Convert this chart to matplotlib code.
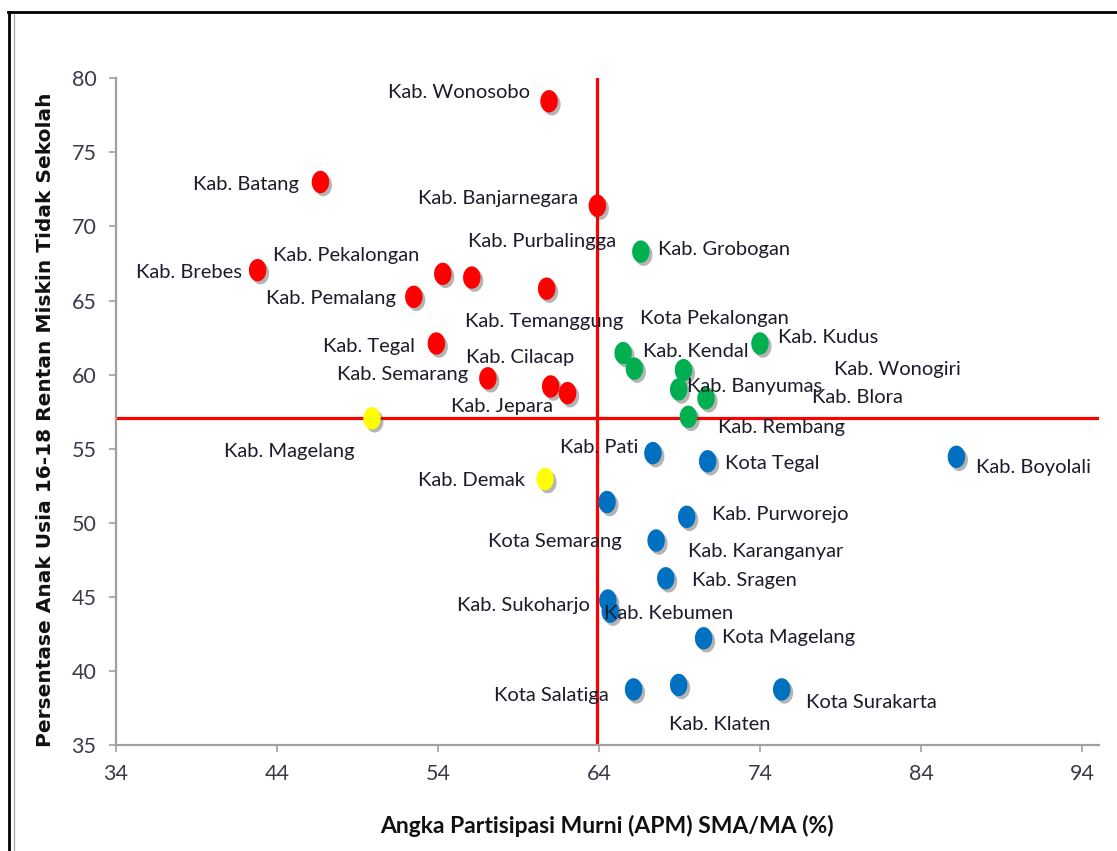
import matplotlib
matplotlib.use("Agg")
import matplotlib.pyplot as plt
import matplotlib.patheffects as pe
from matplotlib.lines import Line2D
from matplotlib.path import Path
import numpy as np

# APM SMA/MA (%) vs persentase anak 16-18 rentan miskin tidak sekolah, per kab/kota
red_names = ["Kab. Wonosobo", "Kab. Batang", "Kab. Banjarnegara", "Kab. Brebes",
             "Kab. Pekalongan", "Kab. Purbalingga", "Kab. Pemalang", "Kab. Temanggung",
             "Kab. Tegal", "Kab. Semarang", "Kab. Cilacap", "Kab. Jepara"]
red_apm = [60.9, 46.7, 63.9, 42.8, 54.3, 56.1, 52.5, 60.75, 53.9, 57.1, 61.0, 62.05]
red_pct = [78.45, 73.0, 71.4, 67.05, 66.8, 66.55, 65.25, 65.8, 62.1, 59.75, 59.2, 58.75]

yellow_names = ["Kab. Magelang", "Kab. Demak"]
yellow_apm = [49.9, 60.65]
yellow_pct = [57.05, 52.95]

green_names = ["Kab. Grobogan", "Kota Pekalongan", "Kab. Kendal", "Kab. Wonogiri",
               "Kab. Banyumas", "Kab. Blora", "Kab. Rembang", "Kab. Kudus"]
green_apm = [66.6, 65.5, 66.2, 69.25, 68.95, 70.65, 69.55, 74.0]
green_pct = [68.3, 61.45, 60.4, 60.3, 59.0, 58.4, 57.15, 62.1]

blue_names = ["Kab. Pati", "Kota Tegal", "Kab. Boyolali", "Kota Semarang", "Kab. Purworejo",
              "Kab. Karanganyar", "Kab. Sragen", "Kab. Sukoharjo", "Kab. Kebumen",
              "Kota Magelang", "Kota Salatiga", "Kab. Klaten", "Kota Surakarta"]
blue_apm = [67.35, 70.75, 86.2, 64.5, 69.45, 67.55, 68.15, 64.55, 64.7, 70.5, 66.15, 68.95, 75.35]
blue_pct = [54.7, 54.15, 54.45, 51.4, 50.4, 48.8, 46.25, 44.75, 44.0, 42.2, 38.75, 39.05, 38.75]

# garis rata-rata
apm_mean = 63.9
pct_mean = 57.1

# posisi label (offset pixel dari titik, alignment)
label_pos = {
    "Kab. Wonosobo": (-19, 9, "right"), "Kab. Batang": (-21, -3, "right"),
    "Kab. Banjarnegara": (-19, 7, "right"), "Kab. Brebes": (-16, -2, "right"),
    "Kab. Pekalongan": (-23, 18, "right"), "Kab. Purbalingga": (-4, 36, "left"),
    "Kab. Pemalang": (-18, -2, "right"), "Kab. Temanggung": (-82, -33, "left"),
    "Kab. Tegal": (-21, -3, "right"), "Kab. Semarang": (-20, 4, "right"),
    "Kab. Cilacap": (-85, 29, "left"), "Kab. Jepara": (-15, -13, "right"),
    "Kab. Magelang": (-17, -33, "right"), "Kab. Demak": (-20, -1, "right"),
    "Kab. Grobogan": (17, 2, "left"), "Kota Pekalongan": (17, 35, "left"),
    "Kab. Kendal": (9, 17, "left"), "Kab. Wonogiri": (150, 1, "left"),
    "Kab. Banyumas": (8, 3, "left"), "Kab. Blora": (106, 1, "left"),
    "Kab. Rembang": (30, -11, "left"), "Kab. Kudus": (18, 6, "left"),
    "Kab. Pati": (-15, 6, "right"), "Kota Tegal": (17, -2, "left"),
    "Kab. Boyolali": (20, -11, "left"), "Kota Semarang": (15, -40, "right"),
    "Kab. Purworejo": (25, 2, "left"), "Kab. Karanganyar": (32, -11, "left"),
    "Kab. Sragen": (26, -2, "left"), "Kab. Sukoharjo": (-18, -5, "right"),
    "Kab. Kebumen": (-6, -2, "left"), "Kota Magelang": (18, 1, "left"),
    "Kota Salatiga": (-25, -6, "right"), "Kab. Klaten": (-10, -40, "left"),
    "Kota Surakarta": (24, -13, "left"),
}

FONT = ["Lato", "DejaVu Sans"]

# marker elips (sedikit lebih tinggi daripada lebar)
t = np.linspace(0, 2 * np.pi, 64)
ellipse = Path(np.column_stack([0.78 * np.cos(t), np.sin(t)]), closed=True)
shadow = [pe.SimplePatchShadow(offset=(2, -2.2), shadow_rgbFace="#444444", alpha=0.4), pe.Normal()]

fig = plt.figure(figsize=(11.17, 8.51), dpi=100)
ax = fig.add_axes([0.1038, 0.1246, 0.88, 0.7834])

ax.axvline(apm_mean, color="#FF0000", lw=2.3, zorder=2)
ax.axhline(pct_mean, color="#FF0000", lw=2.3, zorder=2)

groups = [
    (red_names, red_apm, red_pct, "#FF0000"),
    (yellow_names, yellow_apm, yellow_pct, "#FFFF00"),
    (green_names, green_apm, green_pct, "#00B050"),
    (blue_names, blue_apm, blue_pct, "#0070C0"),
]
for names, xs, ys, col in groups:
    ax.scatter(xs, ys, s=260, marker=ellipse, color=col, linewidths=0,
               zorder=3, path_effects=shadow)
    for name, x, y in zip(names, xs, ys):
        dx, dy, ha = label_pos[name]
        ax.annotate(name, (x, y), xytext=(dx, dy), textcoords="offset pixels",
                    ha=ha, va="center", fontsize=14.5, family=FONT,
                    color="#1c1c2a", zorder=4)

ax.set_xlim(34, 95.05)
ax.set_ylim(35, 80)
ax.set_xticks(np.arange(34, 95, 10))
ax.set_yticks(np.arange(35, 81, 5))

for side in ["top", "right"]:
    ax.spines[side].set_visible(False)
for side in ["left", "bottom"]:
    ax.spines[side].set_color("#A0A0A0")
    ax.spines[side].set_linewidth(1.6)
ax.tick_params(direction="out", length=5, width=1.2, color="#A0A0A0",
               labelcolor="#3a3a4a", labelsize=15.5, pad=9)
for lbl in ax.get_xticklabels() + ax.get_yticklabels():
    lbl.set_family(FONT)

ax.set_xlabel("Angka Partisipasi Murni (APM) SMA/MA (%)", fontsize=16.5,
              fontweight="bold", family=FONT, color="#111111", labelpad=22)
fig.text(0.0405, 0.507, "Persentase Anak Usia 16-18 Rentan Miskin Tidak Sekolah",
         rotation=90, ha="center", va="center", fontsize=14.5, fontweight="bold",
         family="DejaVu Sans", color="#111111")

# bingkai luar
fig.add_artist(Line2D([8 / 1117, 1], [1 - 12 / 851, 1 - 12 / 851], color="black", lw=2.0))
fig.add_artist(Line2D([9 / 1117, 9 / 1117], [0, 1 - 12 / 851], color="black", lw=2.0))
fig.add_artist(Line2D([14 / 1117, 14 / 1117], [0, 1 - 14 / 851], color="#B0B0B0", lw=1.0))

fig.savefig("out.png", dpi=100)
